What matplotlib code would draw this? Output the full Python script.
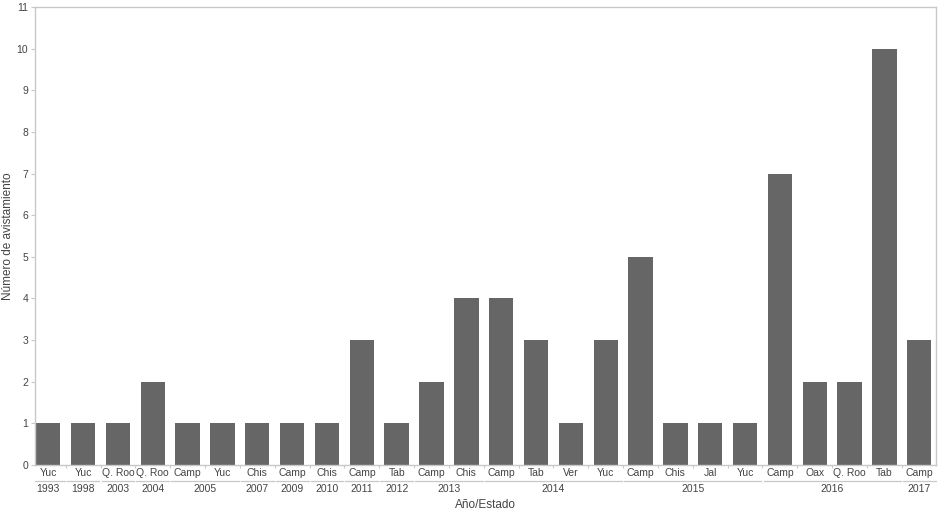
import numpy as np
import matplotlib.pyplot as plt

plt.rcParams['font.family'] = ['Liberation Sans', 'DejaVu Sans']

# 年ごとの州と目撃数
years = ['1993', '1998', '2003', '2004', '2005', '2007', '2009', '2010',
         '2011', '2012', '2013', '2014', '2015', '2016', '2017']
states = [['Yuc'], ['Yuc'], ['Q. Roo'], ['Q. Roo'], ['Camp', 'Yuc'], ['Chis'],
          ['Camp'], ['Chis'], ['Camp'], ['Tab'], ['Camp', 'Chis'],
          ['Camp', 'Tab', 'Ver', 'Yuc'], ['Camp', 'Chis', 'Jal', 'Yuc'],
          ['Camp', 'Oax', 'Q. Roo', 'Tab'], ['Camp']]
counts = [[1], [1], [1], [2], [1, 1], [1], [1], [1], [3], [1], [2, 4],
          [4, 3, 1, 3], [5, 1, 1, 1], [7, 2, 2, 10], [3]]

labels = [s for grp in states for s in grp]
values = [v for grp in counts for v in grp]
x = np.arange(len(values))

text_color = '#444444'
line_color = '#c8c8c8'

fig = plt.figure(figsize=(9.42, 5.14), dpi=100)
ax = fig.add_axes([35 / 942, 49 / 514, 901 / 942, 458 / 514])

ax.bar(x, values, width=0.7, color='#666666', zorder=2)

x_lo, x_hi = -0.38, len(values) - 0.52
ax.set_xlim(x_lo, x_hi)
ax.set_ylim(0, 11)
ax.set_yticks(range(0, 12))
ax.set_xticks(x)
ax.set_xticklabels(labels)
ax.set_xticks(x[:-1] + 0.5, minor=True)
ax.tick_params(axis='x', which='major', length=0, pad=2, labelsize=7.5,
               colors=text_color)
ax.tick_params(axis='x', which='minor', length=2, width=0.8, color=line_color)
ax.tick_params(axis='y', length=3, width=0.8, color=line_color, pad=2,
               labelsize=7.5, labelcolor=text_color)
for sp in ax.spines.values():
    sp.set_color(line_color)
    sp.set_linewidth(1.0)

# 年のグループラベルと区切り線
trans = ax.get_xaxis_transform()
start = 0
for yr, grp in zip(years, states):
    end = start + len(grp) - 1
    x0 = max(start - 0.47, x_lo)
    x1 = min(end + 0.47, x_hi)
    ax.plot([x0, x1], [-0.036, -0.036], color=line_color,
            lw=0.9, transform=trans, clip_on=False)
    ax.text((start + end) / 2, -0.042, yr, transform=trans, ha='center',
            va='top', fontsize=7.5, color=text_color)
    start = end + 1

ax.set_xlabel('Año/Estado', fontsize=8.5, color=text_color)
ax.xaxis.set_label_coords(0.5, -0.074)
ax.set_ylabel('Número de avistamiento', fontsize=8.5, color=text_color)
ax.yaxis.set_label_coords(-0.023, 0.5)

fig.savefig('out.png', dpi=100)
